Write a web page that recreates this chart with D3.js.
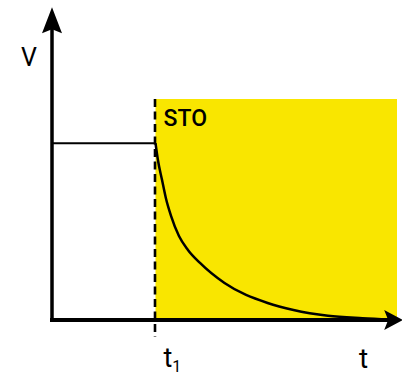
<!DOCTYPE html>
<html>
<head>
<meta charset="utf-8">
<script src="https://cdn.jsdelivr.net/npm/d3@7"></script>
<style>
  html, body { margin: 0; padding: 0; background: #fff; }
  svg { display: block; font-family: Roboto, "Noto Sans", sans-serif; }
</style>
</head>
<body>
<div id="chart"></div>
<script>
// Values (t in arbitrary units, V in arbitrary units)
var t1 = 3;
var vLevel = 8;
var levelT = [0, 3];
var stoRange = [3, 10];
var stoTop = 10;
var axisMax = { t: 10.15, v: 14.15 };

// Decay after STO
var decayT = [3.0, 3.07, 3.19, 3.3, 3.45, 3.68, 3.94, 4.29, 5.0, 6.25, 7.0, 8.0, 9.0, 9.8];
var decayV = [8.0, 7.24, 6.33, 5.52, 4.71, 3.8, 3.17, 2.58, 1.67, 0.77, 0.45, 0.19, 0.08, 0.02];

// Labels
var yLabel = "V";
var xLabel = "t";
var t1Label = "t";
var t1Sub = "1";
var regionLabel = "STO";

var w = 402;
var h = 377;

var svg = d3.select("#chart").append("svg").attr("width", w).attr("height", h);

var x = d3.scaleLinear().domain([0, 10]).range([52, 397]);
var y = d3.scaleLinear().domain([0, 10]).range([320, 99]);

// yellow STO region
svg.append("rect")
  .attr("x", x(stoRange[0]))
  .attr("y", y(stoTop))
  .attr("width", x(stoRange[1]) - x(stoRange[0]))
  .attr("height", y(0) - y(stoTop))
  .attr("fill", "#f9e600");

// dashed t1 marker
svg.append("line")
  .attr("x1", x(t1) - 0.5).attr("x2", x(t1) - 0.5)
  .attr("y1", y(stoTop)).attr("y2", y(0) + 17)
  .attr("stroke", "#000")
  .attr("stroke-width", 2.6)
  .attr("stroke-dasharray", "8,4.5");

// constant level before t1
svg.append("line")
  .attr("x1", x(levelT[0])).attr("x2", x(levelT[1]))
  .attr("y1", y(vLevel)).attr("y2", y(vLevel))
  .attr("stroke", "#000")
  .attr("stroke-width", 2);

// decay curve
var decay = decayT.map(function(d, i) { return [d, decayV[i]]; });
var line = d3.line()
  .x(function(d) { return x(d[0]); })
  .y(function(d) { return y(d[1]); })
  .curve(d3.curveMonotoneX);

svg.append("path")
  .datum(decay)
  .attr("d", line)
  .attr("fill", "none")
  .attr("stroke", "#000")
  .attr("stroke-width", 2.5);

// axes with arrow heads
var x0 = x(0), y0 = y(0);
var yTip = y(axisMax.v), xTip = x(axisMax.t);

svg.append("line")
  .attr("x1", x0).attr("x2", x0)
  .attr("y1", y0 + 2).attr("y2", yTip + 20)
  .attr("stroke", "#000").attr("stroke-width", 3.5);

svg.append("line")
  .attr("x1", x0 - 2).attr("x2", xTip - 14)
  .attr("y1", y0).attr("y2", y0)
  .attr("stroke", "#000").attr("stroke-width", 4);

svg.append("path")
  .attr("d", "M" + x0 + "," + yTip + "L" + (x0 - 10) + "," + (yTip + 26) +
    "L" + x0 + "," + (yTip + 22) + "L" + (x0 + 10) + "," + (yTip + 26) + "Z")
  .attr("fill", "#000");

svg.append("path")
  .attr("d", "M" + (xTip + 1) + "," + y0 + "L" + (xTip - 18) + "," + (y0 - 10) +
    "L" + (xTip - 14) + "," + y0 + "L" + (xTip - 18) + "," + (y0 + 10) + "Z")
  .attr("fill", "#000");

// labels
svg.append("text")
  .attr("x", 29).attr("y", 66)
  .attr("text-anchor", "middle")
  .attr("font-size", 25)
  .text(yLabel);

svg.append("text")
  .attr("x", x(t1) + 8).attr("y", y(stoTop) + 27)
  .attr("font-size", 23)
  .attr("font-weight", 500)
  .text(regionLabel);

var tt = svg.append("text")
  .attr("x", x(t1) + 8).attr("y", 367)
  .attr("font-size", 27);
tt.append("tspan").text(t1Label);
tt.append("tspan").attr("font-size", 16).attr("dy", 5).text(t1Sub);

svg.append("text")
  .attr("x", 359).attr("y", 368)
  .attr("font-size", 28)
  .text(xLabel);
</script>
</body>
</html>
